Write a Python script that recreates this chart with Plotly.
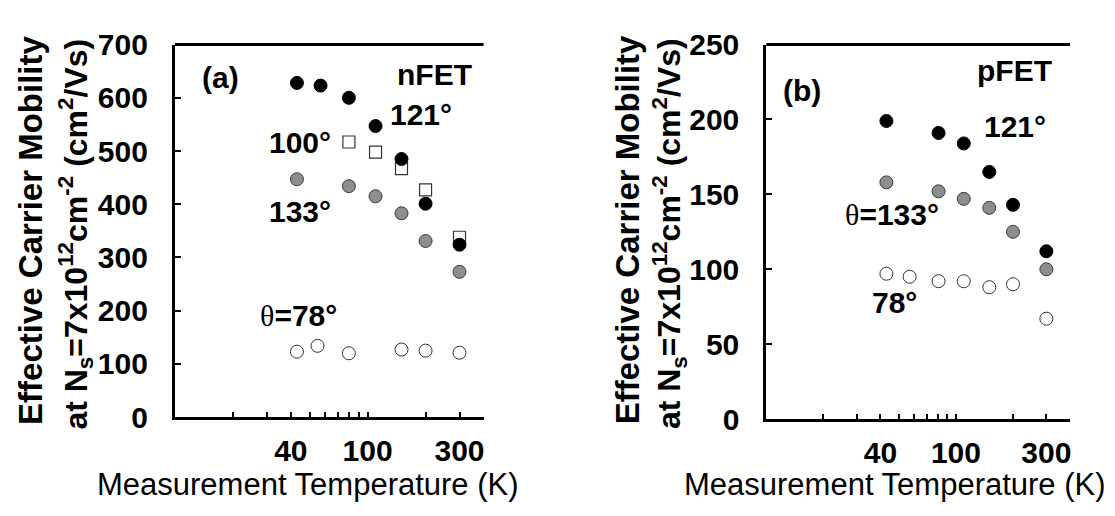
import plotly.graph_objects as go

# ---------------- data ----------------
# Panel (a) nFET
T_a_121 = [43, 57, 80, 110, 150, 200, 300]
mu_a_121 = [628, 623, 600, 547, 485, 401, 324]
T_a_100 = [80, 110, 150, 200, 300]
mu_a_100 = [517, 498, 467, 427, 338]
T_a_133 = [43, 80, 110, 150, 200, 300]
mu_a_133 = [447, 434, 415, 383, 331, 273]
T_a_78 = [43, 55, 80, 150, 200, 300]
mu_a_78 = [123, 134, 120, 127, 125, 121]

# Panel (b) pFET
T_b_121 = [43, 81, 110, 150, 200, 300]
mu_b_121 = [199, 191, 184, 165, 143, 112]
T_b_133 = [43, 81, 110, 150, 200, 300]
mu_b_133 = [158, 152, 147, 141, 125, 100]
T_b_78 = [43, 57, 81, 110, 150, 200, 300]
mu_b_78 = [97, 95, 92, 92, 88, 90, 67]

x_tickvals = [40, 100, 300]
x_ticktext = ["40", "100", "300"]
x_minorvals = [20, 30, 50, 60, 70, 80, 90, 200, 400]

W, H = 1115, 516
FONT = "Liberation Sans"

fig = go.Figure()

black = dict(symbol="circle", size=13, color="black", line=dict(color="black", width=1))
gray = dict(symbol="circle", size=13, color="#8e8e8e", line=dict(color="#3a3a3a", width=1))
opens = dict(symbol="circle", size=13, color="white", line=dict(color="#333333", width=1))
square = dict(symbol="square", size=12, color="white", line=dict(color="#333333", width=1.2))

def add(x, y, m, xa, ya):
    fig.add_trace(go.Scatter(x=x, y=y, mode="markers", marker=m, xaxis=xa, yaxis=ya,
                             showlegend=False, hoverinfo="skip"))

add(T_a_78, mu_a_78, opens, "x", "y")
add(T_a_133, mu_a_133, gray, "x", "y")
add(T_a_100, mu_a_100, square, "x", "y")
add(T_a_121, mu_a_121, black, "x", "y")
add(T_b_78, mu_b_78, opens, "x2", "y2")
add(T_b_133, mu_b_133, gray, "x2", "y2")
add(T_b_121, mu_b_121, black, "x2", "y2")

def px_x(p):
    return p / W

def px_y(p):
    return 1 - p / H

tickfont = dict(family=FONT, size=30, color="black", weight="bold")

xcommon = dict(type="log", range=[1, 2.602], tickvals=x_tickvals, ticktext=x_ticktext,
               ticks="inside", ticklen=5, tickwidth=1.5, tickcolor="black",
               minor=dict(tickvals=x_minorvals, ticks="inside", ticklen=5, tickwidth=1.5,
                          tickcolor="black", showgrid=False),
               showline=True, linewidth=3, linecolor="black", showgrid=False, zeroline=False,
               tickfont=tickfont, ticklabelstandoff=5, fixedrange=True)
ycommon = dict(ticks="inside", ticklen=6, tickwidth=1.5, tickcolor="black",
               showline=True, linewidth=3, linecolor="black", showgrid=False, zeroline=False,
               tickfont=tickfont, ticklabelstandoff=18, fixedrange=True)

fig.update_layout(
    width=W, height=H,
    margin=dict(l=0, r=0, t=0, b=0),
    paper_bgcolor="white", plot_bgcolor="white",
    xaxis=dict(domain=[px_x(167), px_x(476)], anchor="y", **xcommon),
    yaxis=dict(domain=[px_y(420), px_y(22)], anchor="x", range=[0, 700], dtick=100, **ycommon),
    xaxis2=dict(domain=[px_x(759), px_x(1063)], anchor="y2", **xcommon),
    yaxis2=dict(domain=[px_y(422), px_y(22)], anchor="x2", range=[0, 250], dtick=50, **ycommon),
)

# top border lines of each plot area
for xr, yr in (("x domain", "y domain"), ("x2 domain", "y2 domain")):
    fig.add_shape(type="line", xref=xr, yref=yr, x0=0, x1=1, y0=1, y1=1,
                  line=dict(color="black", width=3))

bold = dict(family=FONT, size=30, color="black", weight="bold")
theta = "<span style=\"font-family:'Liberation Serif';font-weight:normal\">θ</span>"

def ann(text, x, y, xanchor="center", font=bold, angle=0):
    fig.add_annotation(text=text, x=px_x(x), y=px_y(y), xref="paper", yref="paper",
                       xanchor=xanchor, yanchor="middle", showarrow=False, font=font,
                       textangle=angle)

# panel (a)
ann("(a)", 213, 57)
ann("nFET", 387, 54, xanchor="left")
ann("121°", 380, 97, xanchor="left")
ann("100°", 292, 127)
ann("133°", 292, 200)
ann(theta + "=78°", 291, 311)

# panel (b)
ann("(b)", 795, 71)
ann("pFET", 968, 50, xanchor="left")
ann("121°", 975, 110, xanchor="left")
ann(theta + "=133°", 885, 203)
ann("78°", 887, 298)

# axis titles
xt_font = dict(family=FONT, size=31, color="black")
ann("Measurement Temperature (K)", 300, 492, font=xt_font)
ann("Measurement Temperature (K)", 888, 492, font=xt_font)

yt_font = dict(family=FONT, size=33, color="black", weight="bold")
line1 = "Effective Carrier Mobility"
line2 = "at N<sub>s</sub>=7x10<sup>12</sup>cm<sup>-2</sup> (cm<sup>2</sup>/Vs)"
ann(line1, 23, 220, font=yt_font, angle=-90)
ann(line2, 68, 224, font=dict(family=FONT, size=32, color="black", weight="bold"), angle=-90)
ann(line1, 620, 220, font=yt_font, angle=-90)
ann(line2, 662, 224, font=dict(family=FONT, size=32, color="black", weight="bold"), angle=-90)

fig.write_html("out.html")
